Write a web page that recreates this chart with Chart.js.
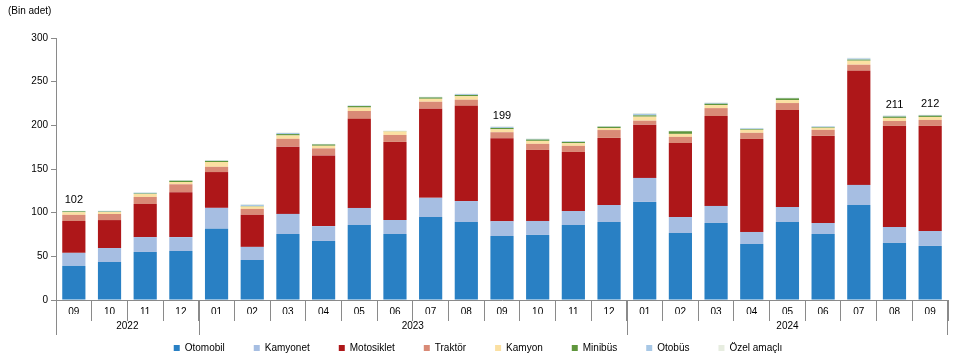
<!DOCTYPE html>
<html>
<head>
<meta charset="utf-8">
<script src="https://cdn.jsdelivr.net/npm/chart.js@4/dist/chart.umd.min.js"></script>
<style>
  html, body { margin: 0; padding: 0; background: #fff; }
  #wrap { width: 961px; height: 363px; }
</style>
</head>
<body>
<div id="wrap"><canvas id="myChart" width="961" height="363"></canvas></div>
<script>
var months = ["09", "10", "11", "12", "01", "02", "03", "04", "05", "06", "07", "08", "09", "10", "11", "12", "01", "02", "03", "04", "05", "06", "07", "08", "09"];
var years = ["2022", "2022", "2022", "2022", "2023", "2023", "2023", "2023", "2023", "2023", "2023", "2023", "2023", "2023", "2023", "2023", "2024", "2024", "2024", "2024", "2024", "2024", "2024", "2024", "2024"];

// bin adet
var otomobil = [39, 43.5, 55, 56, 81.5, 45.8, 75.6, 67.6, 85.9, 75.6, 95, 89.3, 73.3, 74.5, 85.9, 89.3, 112.3, 76.7, 88.2, 64.1, 89.3, 75.6, 108.8, 65.3, 61.9];
var kamyonet = [15, 16, 17, 16, 24, 15, 23, 17, 19.5, 16, 22, 24, 17, 16, 16, 19.5, 27.5, 18.3, 19.5, 13.8, 17.2, 12.6, 23, 18.3, 17.1];
var motosiklet = [36.5, 32, 38, 51.5, 41, 36.7, 77, 81, 102, 89.4, 102, 109, 95, 81.3, 67.6, 76.8, 61, 84.8, 103, 106.5, 111, 99.7, 130.6, 115.7, 120.3];
var traktor = [7, 7, 8, 9, 6, 6.8, 9, 8, 9, 8, 8, 7, 6.8, 7, 7, 9, 4.5, 7, 9, 7, 8, 6.9, 7, 5.7, 6.9];
var kamyon = [3, 2.3, 3.4, 2.6, 5.5, 2.7, 3.8, 3, 4, 4, 3.4, 4, 3.4, 3.4, 3, 2.3, 4.6, 3.4, 3.5, 3.4, 3.4, 2.3, 4.6, 3.5, 3.4];
var minibus = [1, 0.4, 0.5, 1.5, 1.3, 0.5, 1.6, 1.5, 1.7, 0.3, 1.5, 1.5, 1.5, 1.5, 1.5, 1.5, 1.5, 3, 1.5, 0.8, 2, 0.7, 1.2, 1.5, 1.5];
var otobus = [0.4, 0.8, 1, 0.3, 0.4, 1.5, 1.2, 0.4, 0.5, 0.3, 0.6, 1, 1.2, 0.8, 0.7, 0.4, 1.8, 0.3, 1, 1, 0.5, 1, 1.4, 0.9, 0.7];
var ozelAmacli = [0.2, 0.3, 0.4, 0.2, 0.3, 0.7, 0.6, 0.3, 0.3, 0.3, 0.3, 0.5, 0.7, 0.4, 0.3, 0.3, 0.9, 0.3, 0.5, 0.5, 0.3, 0.3, 0.8, 0.6, 0.3];

// totals written above some bars (null = no label)
var totalLabels = [102, null, null, null, null, null, null, null, null, null, null, null, 199, null, null, null, null, null, null, null, null, null, null, 211, 212];

var yTicks = [0, 50, 100, 150, 200, 250, 300];

var font = "'Liberation Sans', Arial, sans-serif";
var axisColor = "#8a8a8a";

var extrasPlugin = {
  id: "extras",
  afterDraw: function (chart) {
    var ctx = chart.ctx;
    var x = chart.scales.x;
    var y = chart.scales.y;
    var half = (x.getPixelForValue(1) - x.getPixelForValue(0)) / 2;
    var bottom = chart.chartArea.bottom;
    ctx.save();

    // year groups under the month labels
    ctx.strokeStyle = axisColor;
    ctx.lineWidth = 1;
    ctx.fillStyle = "#000";
    ctx.font = "10px " + font;
    ctx.textAlign = "center";
    ctx.textBaseline = "middle";
    var start = 0;
    for (var i = 1; i <= years.length; i++) {
      if (i === years.length || years[i] !== years[start]) {
        var left = x.getPixelForValue(start) - half;
        var right = x.getPixelForValue(i - 1) + half;
        ctx.beginPath();
        ctx.moveTo(Math.round(left) + 0.5, bottom);
        ctx.lineTo(Math.round(left) + 0.5, bottom + 35);
        if (i === years.length) {
          ctx.moveTo(Math.round(right) - 0.5, bottom);
          ctx.lineTo(Math.round(right) - 0.5, bottom + 35);
        }
        ctx.stroke();
        ctx.fillText(years[start], (left + right) / 2, bottom + 26);
        start = i;
      }
    }

    // totals above bars
    ctx.font = "11px " + font;
    ctx.textBaseline = "bottom";
    for (var j = 0; j < totalLabels.length; j++) {
      if (totalLabels[j] === null) continue;
      var sum = 0;
      chart.data.datasets.forEach(function (ds) {
        sum += ds.data[j];
      });
      ctx.fillText(String(totalLabels[j]), x.getPixelForValue(j), y.getPixelForValue(sum) - 5);
    }
    ctx.restore();
  },
};

var canvas = document.getElementById("myChart");

var myChart = new Chart(canvas, {
  type: "bar",
  data: {
    labels: months,
    datasets: [
      { label: "Otomobil", data: otomobil, backgroundColor: "#2980c4" },
      { label: "Kamyonet", data: kamyonet, backgroundColor: "#a6bee2" },
      { label: "Motosiklet", data: motosiklet, backgroundColor: "#ae1719" },
      { label: "Traktör", data: traktor, backgroundColor: "#d98a76" },
      { label: "Kamyon", data: kamyon, backgroundColor: "#fbe0a2" },
      { label: "Minibüs", data: minibus, backgroundColor: "#5f963c" },
      { label: "Otobüs", data: otobus, backgroundColor: "#a8c8e6" },
      { label: "Özel amaçlı", data: ozelAmacli, backgroundColor: "#e7ede0" },
    ],
  },
  options: {
    responsive: false,
    animation: false,
    layout: { padding: { left: 8, right: 13, top: 0, bottom: 0 } },
    datasets: {
      bar: { categoryPercentage: 1, barPercentage: 0.65, borderWidth: 0 },
    },
    scales: {
      x: {
        stacked: true,
        grid: {
          offset: true,
          drawOnChartArea: false,
          tickLength: 21,
          color: axisColor,
        },
        border: { color: axisColor },
        ticks: {
          padding: -15,
          color: "#000",
          font: { family: font, size: 10 },
          maxRotation: 0,
          autoSkip: false,
        },
        afterFit: function (scale) {
          scale.height = 14;
        },
      },
      y: {
        stacked: true,
        min: 0,
        max: 300,
        afterBuildTicks: function (scale) {
          scale.ticks = yTicks.map(function (v) {
            return { value: v };
          });
        },
        grid: {
          drawOnChartArea: false,
          tickLength: 5,
          color: axisColor,
        },
        border: { color: axisColor },
        ticks: {
          padding: 3,
          color: "#000",
          font: { family: font, size: 10 },
        },
        afterFit: function (scale) {
          scale.width = 48;
        },
      },
    },
    plugins: {
      title: {
        display: true,
        text: "(Bin adet)",
        align: "start",
        color: "#000",
        font: { family: font, size: 10, weight: "normal" },
        padding: { top: 5, bottom: 21 },
      },
      legend: {
        position: "bottom",
        labels: {
          boxWidth: 6,
          boxHeight: 6,
          padding: 29,
          color: "#000",
          font: { family: font, size: 10 },
        },
      },
      tooltip: { enabled: false },
    },
  },
  plugins: [extrasPlugin],
});
</script>
</body>
</html>
